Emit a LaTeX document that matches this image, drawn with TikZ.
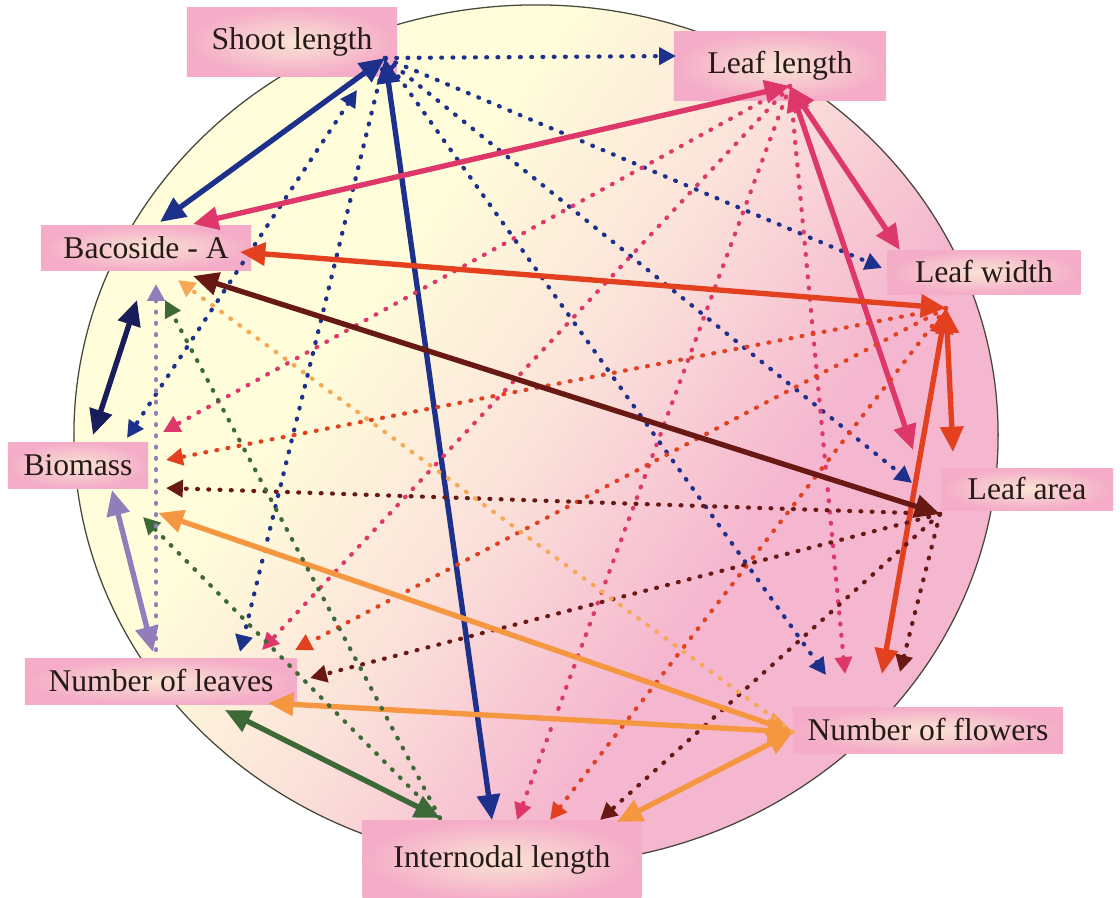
\documentclass[tikz,border=0pt]{standalone}
\usepackage{fontspec}
\setmainfont{Liberation Serif}
\usetikzlibrary{arrows.meta}

\definecolor{circtop}{RGB}{255,253,218}
\definecolor{circmid}{RGB}{251,226,218}
\definecolor{circbot}{RGB}{245,182,207}
\definecolor{circline}{RGB}{70,72,58}
\definecolor{boxin}{RGB}{250,228,212}
\definecolor{boxout}{RGB}{244,172,200}
\definecolor{traittext}{RGB}{38,26,24}
\definecolor{shootcol}{RGB}{28,48,140}
\definecolor{bacocol}{RGB}{25,30,90}
\definecolor{lengthcol}{RGB}{222,55,105}
\definecolor{widthcol}{RGB}{226,64,30}
\definecolor{areacol}{RGB}{105,25,20}
\definecolor{flowercol}{RGB}{245,150,65}
\definecolor{flowerdot}{RGB}{246,168,84}
\definecolor{nodalcol}{RGB}{60,105,55}
\definecolor{biocol}{RGB}{145,125,185}

\pgfdeclarehorizontalshading{discshade}{100bp}{color(0bp)=(circtop); color(38bp)=(circtop);
  color(50bp)=(circmid); color(63bp)=(circbot); color(100bp)=(circbot)}

\tikzset{
  trait/.style={shade, inner color=boxin, outer color=boxout, inner sep=0pt,
    text=traittext, font=\fontsize{22.5}{26}\selectfont},
  strong/.style={line width=3.8pt, >={Triangle[length=18pt,width=16pt]}, <->},
  weak/.style={line width=3pt, line cap=round, dash pattern=on 0.6pt off 7.4pt,
    >={Triangle[length=12pt,width=12pt]}, ->},
}

\begin{document}
\begin{tikzpicture}[x=0.025cm,y=-0.025cm]
\useasboundingbox (0,0) rectangle (1120,897);

% Background circle
\shade[shading=discshade, shading angle=-35]
  (536,435) ellipse [x radius=11.55cm, y radius=10.75cm];
\draw[circline, line width=0.9pt] (536,435) ellipse [x radius=11.55cm, y radius=10.75cm];

% Traits
\node[trait, minimum width=5.25cm, minimum height=1.7cm]  (shoot)   at (292,42)  {Shoot length};
\node[trait, minimum width=5.3cm,  minimum height=1.72cm] (leafl)   at (780,66)  {Leaf length};
\node[trait, minimum width=5.25cm, minimum height=1.12cm] (baco)    at (146,248) {Bacoside - A};
\node[trait, minimum width=4.82cm, minimum height=1.1cm]  (leafw)   at (984,272) {Leaf width};
\node[trait, minimum width=3.5cm,  minimum height=1.15cm] (bio)     at (78,465)  {Biomass};
\node[trait, minimum width=4.3cm,  minimum height=1.05cm] (leafa)   at (1027,489) {Leaf area};
\node[trait, minimum width=6.75cm, minimum height=1.15cm] (flowers) at (928,730) {Number of flowers};
\node[trait, minimum width=6.8cm,  minimum height=1.15cm] (leaves)  at (161,681) {Number of leaves};
\node[trait, minimum width=6.98cm, minimum height=2cm]    (inter)   at (502,860) {Internodal length};

% Hubs and arrow ends
\foreach \n/\x/\y in {shH/385/58, shB/357/90, llH/790/86, lwH/946/308, laH/940/514,
    nfH/793/732, ilH/440/818, baB/137/300, bioN/112/490, nlV/156/650,
    baS/160/222, ilS/492/820, llS/676/56, lwS/882/268, laS/912/483, nfS/826/675,
    bioS/127/438, nlS/240/652,
    baL/193/224, lwL/900/250, laL/913/450, bioL/163/432, nlL/262/650, ilL/517/820, nfL/845/674,
    baW/240/252, laW/953/452, nfW/882/674, bioW/166/460, nlW/295/650, ilW/550/820,
    baA/193/276, bioA/166/488, nlA/310/678, ilA/600/820, nfA/900/672,
    bioF/158/513, nlF/268/703, ilF/617/822, baF/178/280,
    nlI/225/710, bioI/143/517, baI/165/300,
    bioB/93/435, nlB/153/652, baV/156/284}
  \coordinate (\n) at (\x,\y);

% Arrows from Shoot length
\foreach \a/\b in {shH/baS, shH/ilS} \draw[strong, shootcol] (\a) -- (\b);
\foreach \a/\b in {shH/llS, shH/lwS, shH/laS, shH/nfS, shH/nlS} \draw[weak, shootcol] (\a) -- (\b);
\draw[weak, shootcol, <->] (shB) -- (bioS);

% Arrows from Leaf length
\foreach \a/\b in {llH/baL, llH/lwL, llH/laL} \draw[strong, lengthcol] (\a) -- (\b);
\foreach \a/\b in {llH/bioL, llH/nlL, llH/ilL, llH/nfL} \draw[weak, lengthcol] (\a) -- (\b);

% Arrows from Leaf width
\foreach \a/\b in {lwH/baW, lwH/laW, lwH/nfW} \draw[strong, widthcol] (\a) -- (\b);
\foreach \a/\b in {lwH/bioW, lwH/nlW, lwH/ilW} \draw[weak, widthcol] (\a) -- (\b);

% Arrows from Leaf area
\draw[strong, areacol] (laH) -- (baA);
\foreach \a/\b in {laH/bioA, laH/nlA, laH/ilA, laH/nfA} \draw[weak, areacol] (\a) -- (\b);

% Arrows from Number of flowers
\foreach \a/\b in {nfH/bioF, nfH/nlF, nfH/ilF} \draw[strong, flowercol] (\a) -- (\b);
\draw[weak, flowerdot] (nfH) -- (baF);

% Arrows from Internodal length
\draw[strong, nodalcol] (ilH) -- (nlI);
\foreach \a/\b in {ilH/bioI, ilH/baI} \draw[weak, nodalcol] (\a) -- (\b);

% Bacoside - A, Biomass and Number of leaves
\draw[strong, bacocol] (baB) -- (bioB);
\draw[strong, biocol] (bioN) -- (nlB);
\draw[weak, biocol] (nlV) -- (baV);
\end{tikzpicture}
\end{document}
